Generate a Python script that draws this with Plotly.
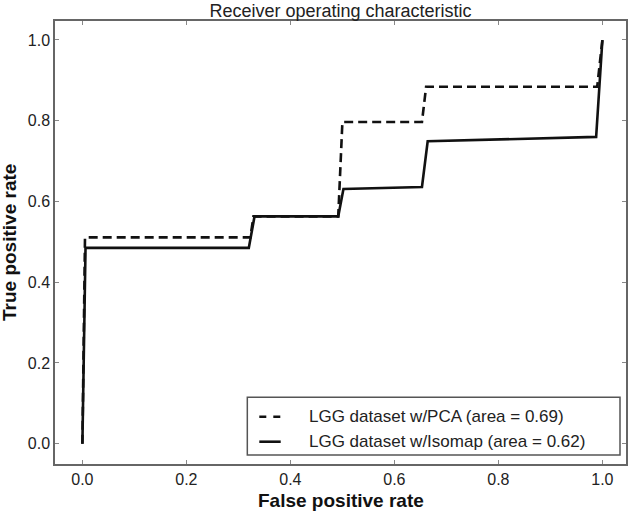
import plotly.graph_objects as go

# PCA ROC curve (dashed)
pca_fpr = [0.0, 0.005, 0.010, 0.323, 0.329, 0.492, 0.500, 0.653, 0.661, 0.990, 1.0]
pca_tpr = [0.0, 0.511, 0.511, 0.511, 0.563, 0.563, 0.797, 0.797, 0.884, 0.884, 1.0]

# Isomap ROC curve (solid)
iso_fpr = [0.0, 0.006, 0.320, 0.331, 0.492, 0.502, 0.653, 0.664, 0.988, 1.0]
iso_tpr = [0.0, 0.485, 0.485, 0.563, 0.563, 0.631, 0.636, 0.749, 0.760, 1.0]

pca_label = "LGG dataset w/PCA (area = 0.69)"
iso_label = "LGG dataset w/Isomap (area = 0.62)"

tick_vals = [0.0, 0.2, 0.4, 0.6, 0.8, 1.0]
tick_text = ["0.0", "0.2", "0.4", "0.6", "0.8", "1.0"]

FONT = "Liberation Sans, Arial, sans-serif"
PCA_DASH = "9px,5px"

fig = go.Figure()
fig.add_trace(go.Scatter(x=pca_fpr, y=pca_tpr, mode="lines", name=pca_label,
                         line=dict(color="#111111", width=2.6, dash=PCA_DASH)))
fig.add_trace(go.Scatter(x=iso_fpr, y=iso_tpr, mode="lines", name=iso_label,
                         line=dict(color="#111111", width=2.6)))

axis_common = dict(
    showgrid=False, zeroline=False, showline=True, linecolor="#666666", linewidth=1.5,
    mirror="ticks", ticks="inside", ticklen=4, tickwidth=1, tickcolor="#888888",
    tickvals=tick_vals, ticktext=tick_text, automargin=False,
    tickfont=dict(family=FONT, size=16, color="#222222"),
)

fig.update_layout(
    width=632, height=511,
    margin=dict(l=55, r=6, t=21, b=47),
    paper_bgcolor="white", plot_bgcolor="white",
    title=dict(text="Receiver operating characteristic", xref="paper", x=0.5,
               xanchor="center", yref="container", y=0.9795, yanchor="middle",
               font=dict(family=FONT, size=18, color="#222222")),
    xaxis=dict(range=[-0.0527, 1.0454], **axis_common),
    yaxis=dict(range=[-0.0503, 1.047], **axis_common),
    showlegend=False,
)

# axis titles
fig.add_annotation(text="<b>False positive rate</b>", xref="paper", yref="paper",
                   x=0.5, y=-0.0813, xanchor="center", yanchor="middle", showarrow=False,
                   font=dict(family=FONT, size=19, color="#111111"))
fig.add_annotation(text="<b>True positive rate</b>", xref="paper", yref="paper",
                   x=-0.0797, y=0.5, xanchor="center", yanchor="middle", showarrow=False,
                   textangle=-90, font=dict(family=FONT, size=19, color="#111111"))

# legend box drawn manually
fig.add_shape(type="rect", xref="paper", yref="paper", x0=0.3368, x1=0.9895,
              y0=0.0203, y1=0.1506, line=dict(color="#555555", width=1.5),
              fillcolor="white", layer="above")
legend_rows = [(pca_label, "7px,7px", 0.1068), (iso_label, "solid", 0.0503)]
for label, dash, yy in legend_rows:
    fig.add_shape(type="line", xref="paper", yref="paper", x0=0.3578, x1=0.3953,
                  y0=yy, y1=yy, line=dict(color="#111111", width=2.6, dash=dash),
                  layer="above")
    fig.add_annotation(text=label, xref="paper", yref="paper", x=0.4419, y=yy,
                       xanchor="left", yanchor="middle", showarrow=False,
                       font=dict(family=FONT, size=17, color="#222222"))

fig.write_html("out.html", config={"displayModeBar": False},
               post_script="document.body.style.margin='0';document.body.style.overflow='hidden';")
